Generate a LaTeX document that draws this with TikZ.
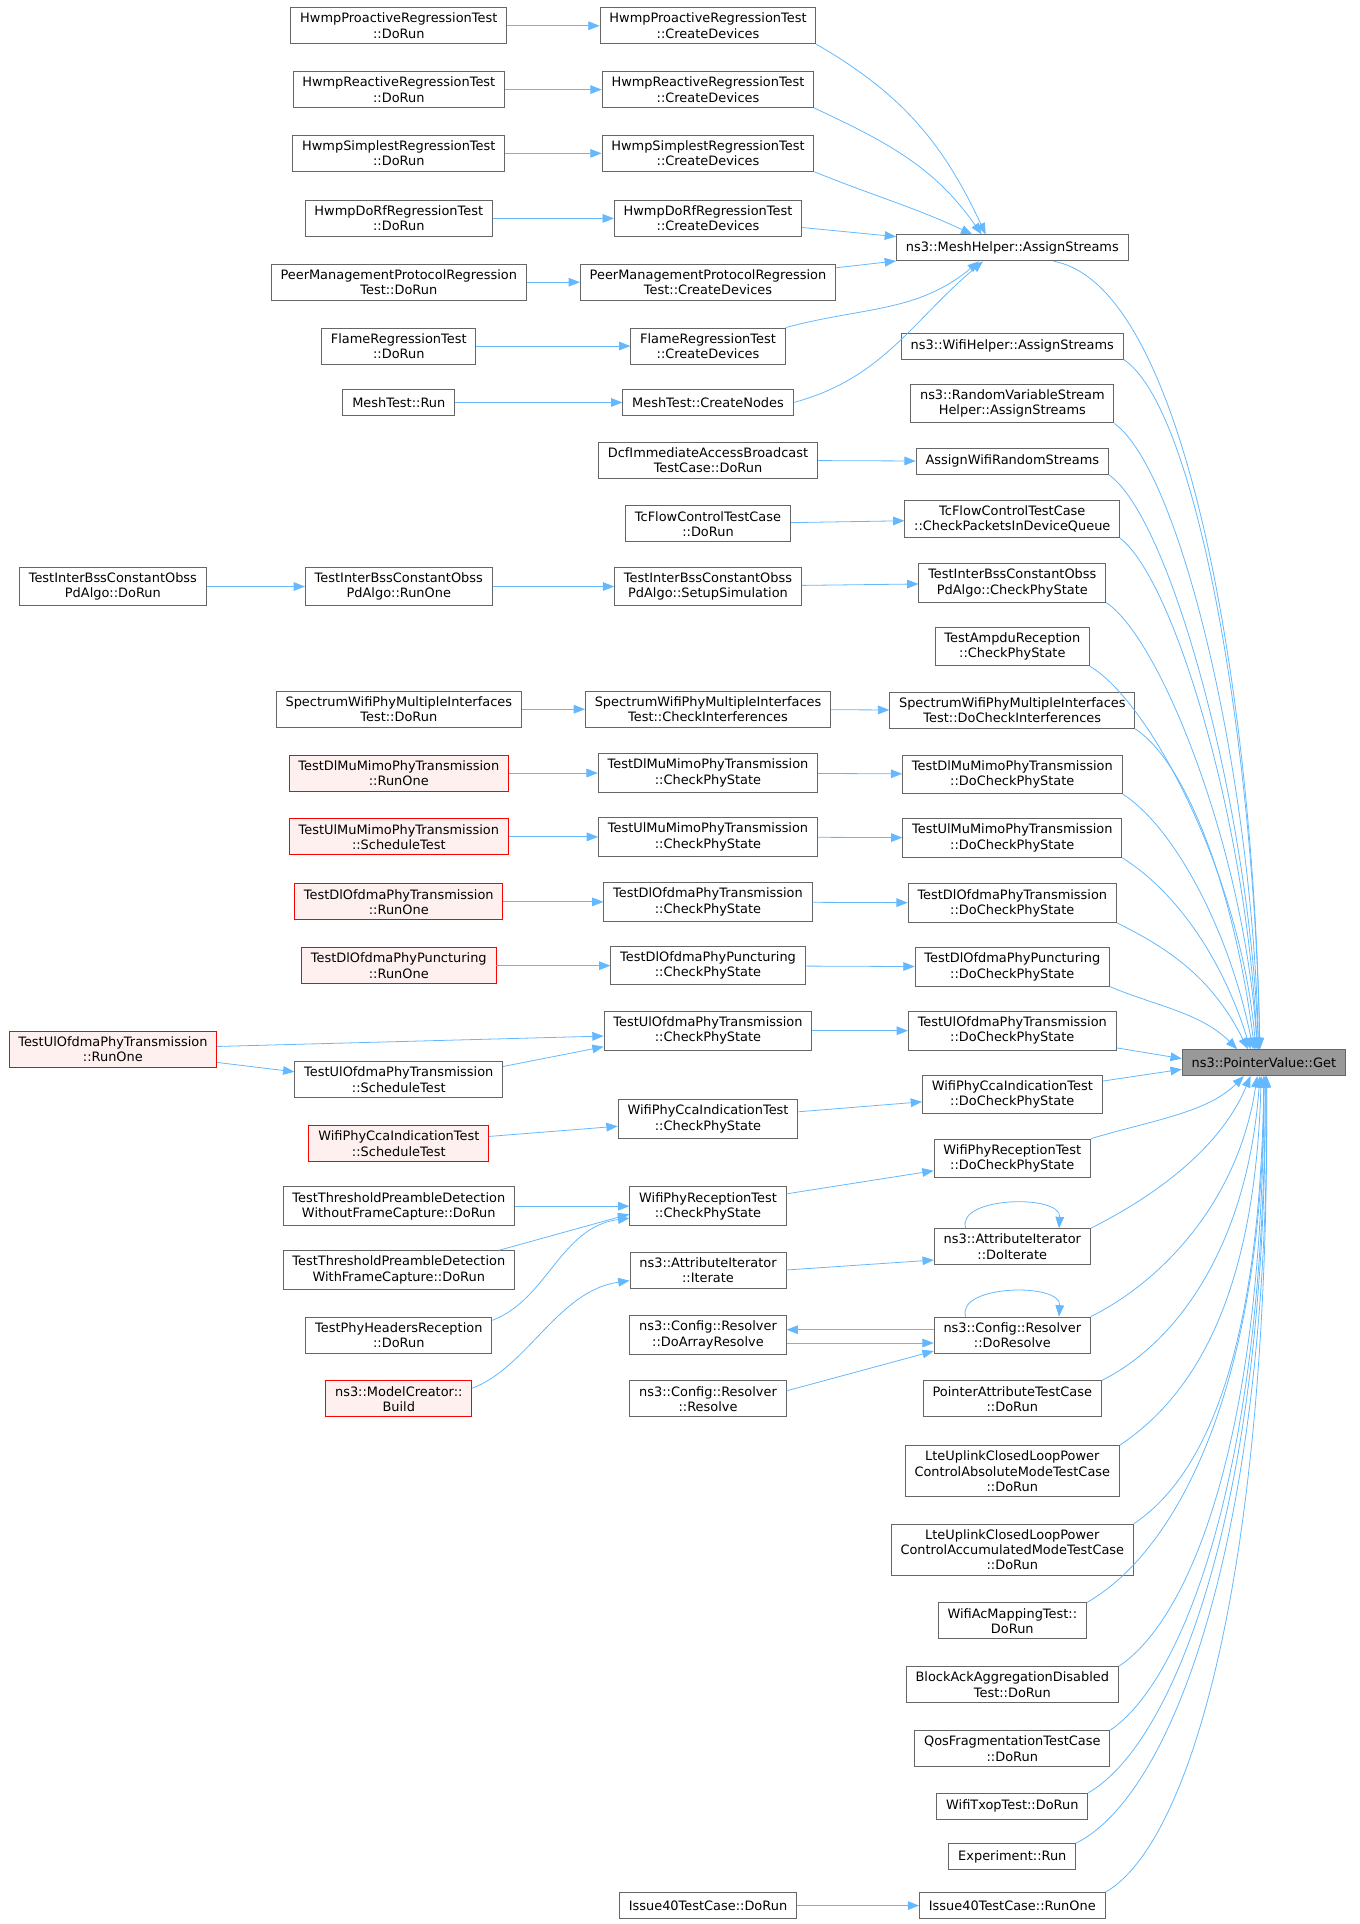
\documentclass[tikz,border=0pt]{standalone}
\usepackage{fontspec}
\setmainfont{DejaVu Sans}
\usetikzlibrary{arrows.meta}
\definecolor{edgeblue}{HTML}{63B8FF}
\definecolor{boxgrey}{HTML}{666666}
\definecolor{redfill}{HTML}{FFF0F0}
\definecolor{getfill}{HTML}{999999}
\begin{document}
\begin{tikzpicture}[x=0.9206pt,y=-0.9206pt,
		box/.style={draw=boxgrey,fill=white,line width=0.7pt,align=center,inner xsep=7pt,inner ysep=4pt,minimum height=19.5pt,font=\fontsize{9.7}{11.5}\selectfont},
		redbox/.style={box,draw=red,fill=redfill},
		getbox/.style={box,fill=getfill},
		edge/.style={draw=edgeblue,line width=0.6pt,-{Triangle[length=8.5pt,width=6.5pt]}}]
		\useasboundingbox (0,0) rectangle (1108,1568);
		\node[box] (ibd) at (92,478) {TestInterBssConstantObss\\PdAlgo::DoRun};
		\node[redbox] (uor) at (92,855) {TestUlOfdmaPhyTransmission\\::RunOne};
		\node[box] (hpd) at (325,21) {HwmpProactiveRegressionTest\\::DoRun};
		\node[box] (hrd) at (325,73) {HwmpReactiveRegressionTest\\::DoRun};
		\node[box] (hsd) at (325,125) {HwmpSimplestRegressionTest\\::DoRun};
		\node[box] (hdd) at (325,178) {HwmpDoRfRegressionTest\\::DoRun};
		\node[box] (pmd) at (325,230) {PeerManagementProtocolRegression\\Test::DoRun};
		\node[box] (frd) at (325,282) {FlameRegressionTest\\::DoRun};
		\node[box] (mtr) at (325,328) {MeshTest::Run};
		\node[box] (ibr) at (325,478) {TestInterBssConstantObss\\PdAlgo::RunOne};
		\node[box] (smd) at (325,578) {SpectrumWifiPhyMultipleInterfaces\\Test::DoRun};
		\node[redbox] (dmr) at (325,630) {TestDlMuMimoPhyTransmission\\::RunOne};
		\node[redbox] (umt) at (325,682) {TestUlMuMimoPhyTransmission\\::ScheduleTest};
		\node[redbox] (dor) at (325,735) {TestDlOfdmaPhyTransmission\\::RunOne};
		\node[redbox] (ppr) at (325,787) {TestDlOfdmaPhyPuncturing\\::RunOne};
		\node[box] (ust) at (325,880) {TestUlOfdmaPhyTransmission\\::ScheduleTest};
		\node[redbox] (cst) at (325,932) {WifiPhyCcaIndicationTest\\::ScheduleTest};
		\node[box] (twod) at (325,983) {TestThresholdPreambleDetection\\WithoutFrameCapture::DoRun};
		\node[box] (twd) at (325,1035) {TestThresholdPreambleDetection\\WithFrameCapture::DoRun};
		\node[box] (phd) at (325,1088) {TestPhyHeadersReception\\::DoRun};
		\node[redbox] (mcb) at (325,1140) {ns3::ModelCreator::\\Build};
		\node[box] (hpc) at (577,21) {HwmpProactiveRegressionTest\\::CreateDevices};
		\node[box] (hrc) at (577,73) {HwmpReactiveRegressionTest\\::CreateDevices};
		\node[box] (hsc) at (577,125) {HwmpSimplestRegressionTest\\::CreateDevices};
		\node[box] (hdc) at (577,178) {HwmpDoRfRegressionTest\\::CreateDevices};
		\node[box] (pmc) at (577,230) {PeerManagementProtocolRegression\\Test::CreateDevices};
		\node[box] (frc) at (577,282) {FlameRegressionTest\\::CreateDevices};
		\node[box] (mtc) at (577,328) {MeshTest::CreateNodes};
		\node[box] (dcf) at (577,375) {DcfImmediateAccessBroadcast\\TestCase::DoRun};
		\node[box] (tcd) at (577,427) {TcFlowControlTestCase\\::DoRun};
		\node[box] (ibs) at (577,478) {TestInterBssConstantObss\\PdAlgo::SetupSimulation};
		\node[box] (smc) at (577,578) {SpectrumWifiPhyMultipleInterfaces\\Test::CheckInterferences};
		\node[box] (dmc) at (577,630) {TestDlMuMimoPhyTransmission\\::CheckPhyState};
		\node[box] (umc) at (577,682) {TestUlMuMimoPhyTransmission\\::CheckPhyState};
		\node[box] (doc) at (577,735) {TestDlOfdmaPhyTransmission\\::CheckPhyState};
		\node[box] (ppc) at (577,787) {TestDlOfdmaPhyPuncturing\\::CheckPhyState};
		\node[box] (uoc) at (577,840) {TestUlOfdmaPhyTransmission\\::CheckPhyState};
		\node[box] (ccc) at (577,912) {WifiPhyCcaIndicationTest\\::CheckPhyState};
		\node[box] (rxc) at (577,983) {WifiPhyReceptionTest\\::CheckPhyState};
		\node[box] (ait) at (577,1035) {ns3::AttributeIterator\\::Iterate};
		\node[box] (dar) at (577,1088) {ns3::Config::Resolver\\::DoArrayResolve};
		\node[box] (res) at (577,1140) {ns3::Config::Resolver\\::Resolve};
		\node[box] (i4d) at (577,1553) {Issue40TestCase::DoRun};
		\node[box] (mas) at (825,202) {ns3::MeshHelper::AssignStreams};
		\node[box] (was) at (825,282) {ns3::WifiHelper::AssignStreams};
		\node[box] (ras) at (825,329) {ns3::RandomVariableStream\\Helper::AssignStreams};
		\node[box] (awr) at (825,376) {AssignWifiRandomStreams};
		\node[box] (tcq) at (825,423) {TcFlowControlTestCase\\::CheckPacketsInDeviceQueue};
		\node[box] (ibc) at (825,475) {TestInterBssConstantObss\\PdAlgo::CheckPhyState};
		\node[box] (amp) at (825,527) {TestAmpduReception\\::CheckPhyState};
		\node[box] (smi) at (825,579) {SpectrumWifiPhyMultipleInterfaces\\Test::DoCheckInterferences};
		\node[box] (dmd) at (825,631) {TestDlMuMimoPhyTransmission\\::DoCheckPhyState};
		\node[box] (umd) at (825,683) {TestUlMuMimoPhyTransmission\\::DoCheckPhyState};
		\node[box] (dod) at (825,736) {TestDlOfdmaPhyTransmission\\::DoCheckPhyState};
		\node[box] (ppd) at (825,788) {TestDlOfdmaPhyPuncturing\\::DoCheckPhyState};
		\node[box] (uod) at (825,840) {TestUlOfdmaPhyTransmission\\::DoCheckPhyState};
		\node[box] (ccd) at (825,892) {WifiPhyCcaIndicationTest\\::DoCheckPhyState};
		\node[box] (rxd) at (825,944) {WifiPhyReceptionTest\\::DoCheckPhyState};
		\node[box] (dit) at (825,1016) {ns3::AttributeIterator\\::DoIterate};
		\node[box] (drs) at (825,1088) {ns3::Config::Resolver\\::DoResolve};
		\node[box] (pat) at (825,1140) {PointerAttributeTestCase\\::DoRun};
		\node[box] (lab) at (825,1199) {LteUplinkClosedLoopPower\\ControlAbsoluteModeTestCase\\::DoRun};
		\node[box] (lac) at (825,1263) {LteUplinkClosedLoopPower\\ControlAccumulatedModeTestCase\\::DoRun};
		\node[box] (wam) at (825,1321) {WifiAcMappingTest::\\DoRun};
		\node[box] (bad) at (825,1373) {BlockAckAggregationDisabled\\Test::DoRun};
		\node[box] (qfr) at (825,1425) {QosFragmentationTestCase\\::DoRun};
		\node[box] (txo) at (825,1472) {WifiTxopTest::DoRun};
		\node[box] (exr) at (825,1513) {Experiment::Run};
		\node[box] (i4r) at (825,1553) {Issue40TestCase::RunOne};
		\node[getbox] (get) at (1030,866) {ns3::PointerValue::Get};
		% callers on the left
		\draw[edge] (hpd) -- (hpc);
		\draw[edge] (hrd) -- (hrc);
		\draw[edge] (hsd) -- (hsc);
		\draw[edge] (hdd) -- (hdc);
		\draw[edge] (pmd) -- (pmc);
		\draw[edge] (frd) -- (frc);
		\draw[edge] (mtr) -- (mtc);
		\draw[edge] (ibd) -- (ibr);
		\draw[edge] (ibr) -- (ibs);
		\draw[edge] (smd) -- (smc);
		\draw[edge] (dmr) -- (dmc);
		\draw[edge] (umt) -- (umc);
		\draw[edge] (dor) -- (doc);
		\draw[edge] (ppr) -- (ppc);
		\draw[edge] ([yshift=2pt]uor.east) -- ([yshift=-4pt]uoc.west);
		\draw[edge] ([yshift=-10pt]uor.east) -- ([yshift=6pt]ust.west);
		\draw[edge] ([yshift=10pt]ust.east) -- ([yshift=-12pt]uoc.west);
		\draw[edge] (cst) -- (ccc);
		\draw[edge] (twod) -- (rxc);
		\draw[edge] ([xshift=-12pt]twd.north east) -- ([yshift=-6pt]rxc.west);
		\draw[edge] ([yshift=11pt]phd.east) .. controls +(45,-17) and +(-56,7) .. ([yshift=-9pt]rxc.west);
		\draw[edge] ([yshift=8pt]mcb.east) .. controls +(45,-17) and +(-58,8) .. ([yshift=-8pt]ait.west);
		\draw[edge] (i4d) -- (i4r);
		% into the mesh helper
		\draw[edge] (hpc.south east) to[out=-30,in=115] ([xshift=-20pt]mas.north);
		\draw[edge] (hrc.south east) to[out=-25,in=125] ([xshift=-23pt]mas.north);
		\draw[edge] (hsc.south east) to[out=-22,in=155] ([xshift=-30pt]mas.north);
		\draw[edge] (hdc) -- (mas);
		\draw[edge] (pmc) -- (mas);
		\draw[edge] (frc.north east) to[out=15,in=-140] ([xshift=-25pt]mas.south);
		\draw[edge] (mtc.east) to[out=15,in=-140] ([xshift=-22pt]mas.south);
		% third column to fourth column
		\draw[edge] (dcf) -- (awr);
		\draw[edge] (tcd) -- (tcq);
		\draw[edge] (ibs) -- (ibc);
		\draw[edge] (smc) -- (smi);
		\draw[edge] (dmc) -- (dmd);
		\draw[edge] (umc) -- (umd);
		\draw[edge] (doc) -- (dod);
		\draw[edge] (ppc) -- (ppd);
		\draw[edge] (uoc) -- (uod);
		\draw[edge] (ccc) -- (ccd);
		\draw[edge] (rxc) -- (rxd);
		\draw[edge] (ait.east) -- ([yshift=-10pt]dit.west);
		\draw[edge] ([yshift=4pt]drs.west) -- ([yshift=4pt]dar.east);
		\draw[edge] ([yshift=-6pt]dar.east) -- ([yshift=-6pt]drs.west);
		\draw[edge] ([yshift=6pt]res.east) -- ([yshift=-12pt]drs.west);
		\draw[edge] ([xshift=-35pt]dit.north) .. controls +(-8,-26) and +(2,-28) .. ([xshift=35pt]dit.north);
		\draw[edge] ([xshift=-35pt]drs.north) .. controls +(-8,-26) and +(2,-28) .. ([xshift=35pt]drs.north);
		% into the pointer value
		\draw[edge] (mas.-18) .. controls +(110,20) and +(-5,-280) .. ([xshift=-3pt]get.north);
		\draw[edge] (was.south east) .. controls +(60,40) and +(-5,-250) .. ([xshift=-3pt]get.north);
		\draw[edge] (ras.south east) .. controls +(55,40) and +(-5,-220) .. ([xshift=-4pt]get.north);
		\draw[edge] (awr.south east) .. controls +(50,35) and +(-8,-200) .. ([xshift=-4pt]get.north);
		\draw[edge] (tcq.south east) .. controls +(45,35) and +(-8,-180) .. ([xshift=-5pt]get.north);
		\draw[edge] (ibc.south east) .. controls +(45,30) and +(-10,-160) .. ([xshift=-5pt]get.north);
		\draw[edge] (amp.south east) .. controls +(50,30) and +(-12,-140) .. ([xshift=-6pt]get.north);
		\draw[edge] (smi.south east) .. controls +(45,30) and +(-15,-120) .. ([xshift=-7pt]get.north);
		\draw[edge] (dmd.south east) .. controls +(40,25) and +(-20,-100) .. ([xshift=-8pt]get.north);
		\draw[edge] (umd.south east) .. controls +(40,25) and +(-25,-80) .. ([xshift=-10pt]get.north);
		\draw[edge] (dod.south east) .. controls +(40,20) and +(-30,-60) .. ([xshift=-12pt]get.north);
		\draw[edge] (ppd.south east) .. controls +(35,15) and +(-30,-30) .. ([xshift=-20pt]get.north);
		\draw[edge] (uod) -- ([yshift=3pt]get.west);
		\draw[edge] (ccd) -- ([yshift=-5pt]get.west);
		\draw[edge] (rxd.north east) .. controls +(50,-15) and +(-30,30) .. ([xshift=-15pt]get.south);
		\draw[edge] (dit.north east) .. controls +(50,-25) and +(-25,60) .. ([xshift=-10pt]get.south);
		\draw[edge] (drs.north east) .. controls +(60,-30) and +(-15,100) .. ([xshift=-5pt]get.south);
		\draw[edge] (pat.north east) .. controls +(60,-30) and +(-10,140) .. ([xshift=-3pt]get.south);
		\draw[edge] (lab.north east) .. controls +(60,-40) and +(-5,180) .. ([xshift=-2pt]get.south);
		\draw[edge] (lac.north east) .. controls +(60,-40) and +(-3,220) .. (get.south);
		\draw[edge] (wam.north east) .. controls +(70,-40) and +(0,260) .. (get.south);
		\draw[edge] (bad.north east) .. controls +(60,-40) and +(0,290) .. (get.south);
		\draw[edge] (qfr.north east) .. controls +(60,-40) and +(0,320) .. ([xshift=1pt]get.south);
		\draw[edge] (txo.north east) .. controls +(70,-40) and +(2,350) .. ([xshift=1pt]get.south);
		\draw[edge] (exr.north east) .. controls +(80,-40) and +(3,370) .. ([xshift=2pt]get.south);
		\draw[edge] (i4r.north east) .. controls +(70,-40) and +(3,400) .. ([xshift=2pt]get.south);
\end{tikzpicture}
\end{document}
